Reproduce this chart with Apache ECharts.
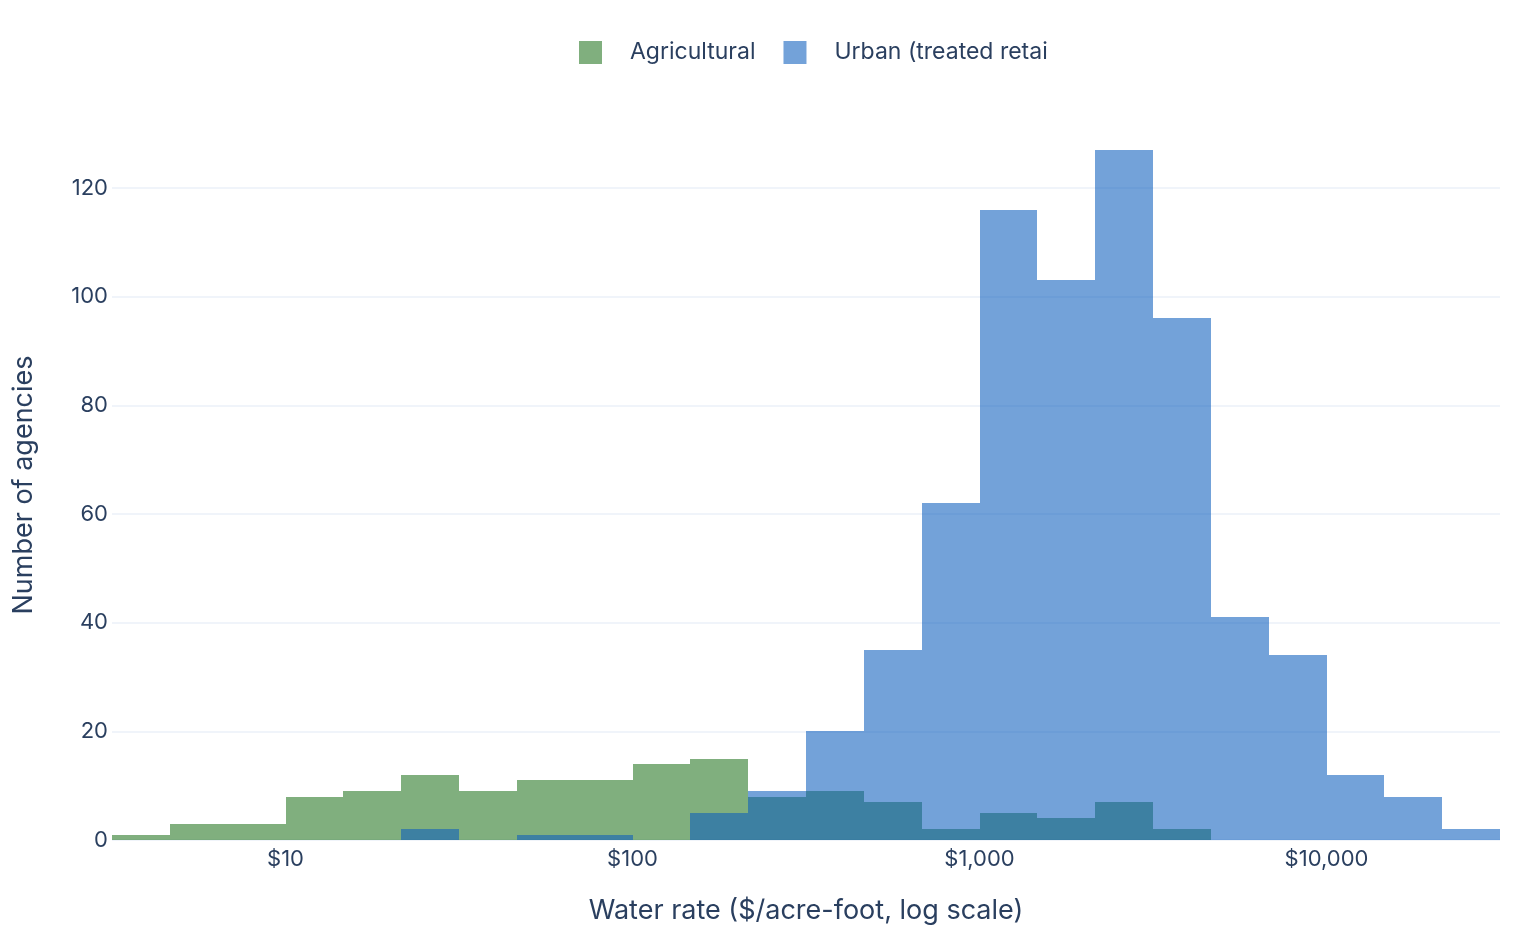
<!DOCTYPE html>
<html>
<head>
<meta charset="utf-8">
<title>Water rates histogram</title>
<script src="https://cdn.jsdelivr.net/npm/echarts@6/dist/echarts.min.js"></script>
<style>
  html, body { margin: 0; padding: 0; background: #fff; }
  #chart { width: 1520px; height: 940px; }
</style>
</head>
<body>
<div id="chart"></div>
<script>
// bin edges in $/acre-foot (1/6 decade each)
const binEdges = [3.162, 4.642, 6.813, 10, 14.68, 21.54, 31.62, 46.42, 68.13, 100, 146.8, 215.4,
  316.2, 464.2, 681.3, 1000, 1468, 2154, 3162, 4642, 6813, 10000, 14678, 21544, 31623];
const agricultural = [1, 3, 3, 8, 9, 12, 9, 11, 11, 14, 15, 8, 9, 7, 2, 5, 4, 7, 2, 0, 0, 0, 0, 0];
const urban = [0, 0, 0, 0, 0, 2, 0, 1, 1, 0, 5, 9, 20, 35, 62, 116, 103, 127, 96, 41, 34, 12, 8, 2];
const seriesNames = ['Agricultural', 'Urban (treated retai'];

const textColor = '#2a3f5f';
const font = 'Inter, "Noto Sans", sans-serif';

function toBins(counts) {
  return counts.map((c, i) => [Math.log10(binEdges[i]), Math.log10(binEdges[i + 1]), c]);
}

// snap to whole pixels so neighbouring translucent bars don't leave seams
function renderBar(params, api) {
  const x0 = api.value(0), x1 = api.value(1), v = api.value(2);
  if (!v) return null;
  const p0 = api.coord([x0, v]);
  const p1 = api.coord([x1, 0]);
  const left = Math.round(p0[0]), right = Math.round(p1[0]);
  const top = Math.round(p0[1]), bottom = Math.round(p1[1]);
  return {
    type: 'rect',
    shape: { x: left, y: top, width: right - left, height: bottom - top },
    style: { fill: api.visual('color') }
  };
}

const chart = echarts.init(document.getElementById('chart'));

const option = {
  animation: false,
  textStyle: { fontFamily: font },
  color: ['rgba(34,116,31,0.575)', 'rgba(13,93,189,0.575)'],
  legend: {
    top: 36,
    left: 574,
    icon: 'rect',
    itemWidth: 23,
    itemHeight: 23,
    itemGap: 28,
    data: seriesNames,
    textStyle: { color: textColor, fontSize: 23, fontFamily: font, padding: [0, 0, 0, 23] }
  },
  grid: { left: 112, right: 20, top: 188, bottom: 100 },
  xAxis: {
    type: 'value',
    min: 0.5,
    max: 4.5,
    interval: 0.5,
    name: 'Water rate ($/acre-foot, log scale)',
    nameLocation: 'middle',
    nameGap: 57,
    nameTextStyle: { color: textColor, fontSize: 27, fontFamily: font },
    axisLine: { show: false },
    axisTick: { show: false },
    splitLine: { show: false },
    axisLabel: {
      color: textColor,
      fontSize: 22,
      margin: 8,
      formatter: v => Number.isInteger(v) && v >= 1 ? '$' + Math.pow(10, v).toLocaleString('en-US') : ''
    }
  },
  yAxis: {
    type: 'value',
    min: 0,
    max: 120,
    interval: 20,
    axisLine: { show: false },
    axisTick: { show: false },
    axisLabel: { color: textColor, fontSize: 22, margin: 4 },
    splitLine: { lineStyle: { color: '#ebf0f8', width: 1.5 } }
  },
  graphic: [{
    type: 'text',
    x: 24,
    y: 485,
    rotation: Math.PI / 2,
    style: {
      text: 'Number of agencies',
      fill: textColor,
      font: '27px ' + font,
      align: 'center',
      verticalAlign: 'middle'
    }
  }],
  series: [
    {
      name: seriesNames[0],
      type: 'custom',
      clip: false,
      renderItem: renderBar,
      encode: { x: [0, 1], y: 2 },
      data: toBins(agricultural)
    },
    {
      name: seriesNames[1],
      type: 'custom',
      clip: false,
      renderItem: renderBar,
      encode: { x: [0, 1], y: 2 },
      data: toBins(urban)
    }
  ]
};

chart.setOption(option);
</script>
</body>
</html>
